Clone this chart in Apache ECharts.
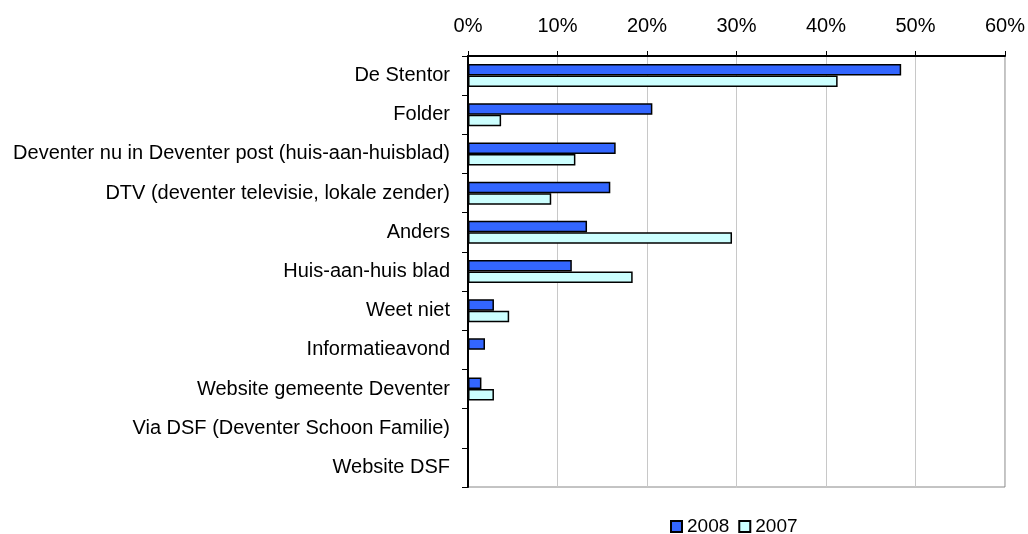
<!DOCTYPE html>
<html>
<head>
<meta charset="utf-8">
<script src="https://cdn.jsdelivr.net/npm/echarts@6/dist/echarts.min.js"></script>
<style>
  html, body { margin: 0; padding: 0; background: #fff; }
  #chart { width: 1028px; height: 534px; }
</style>
</head>
<body>
<div id="chart"></div>
<script>
const categories = [
  'De Stentor',
  'Folder',
  'Deventer nu in Deventer post (huis-aan-huisblad)',
  'DTV (deventer televisie, lokale zender)',
  'Anders',
  'Huis-aan-huis blad',
  'Weet niet',
  'Informatieavond',
  'Website gemeente Deventer',
  'Via DSF (Deventer Schoon Familie)',
  'Website DSF'
]
const values2008 = [48.4, 20.6, 16.5, 15.9, 13.3, 11.6, 2.9, 1.9, 1.5, 0, 0]
const values2007 = [41.3, 3.7, 12.0, 9.3, 29.5, 18.4, 4.6, 0, 2.9, 0, 0]
const xTicks = [0, 10, 20, 30, 40, 50, 60]

const font = 'Liberation Sans, Arial, sans-serif'
const myChart = echarts.init(document.getElementById('chart'))
const option = {
  animation: false,
  textStyle: { fontFamily: font },
  grid: {
    left: 468,
    top: 56,
    right: 20,
    bottom: 47,
    show: true,
    borderColor: '#888',
    borderWidth: 1
  },
  legend: {
    data: ['2008', '2007'],
    left: 665,
    top: 512,
    icon: 'rect',
    itemWidth: 11,
    itemHeight: 11,
    itemGap: 9,
    textStyle: { fontSize: 19, color: '#000', fontFamily: font }
  },
  xAxis: {
    type: 'value',
    position: 'top',
    min: xTicks[0],
    max: xTicks[xTicks.length - 1],
    interval: 10,
    axisLine: { show: true, lineStyle: { color: '#000', width: 2 } },
    axisTick: { show: true, inside: false, length: 5, lineStyle: { color: '#000' } },
    axisLabel: { formatter: '{value}%', fontSize: 20, color: '#000', margin: 20 },
    splitLine: { show: true, lineStyle: { color: '#c8c8c8', width: 1 } }
  },
  yAxis: {
    type: 'category',
    inverse: true,
    data: categories,
    axisLine: { show: true, lineStyle: { color: '#000', width: 2 } },
    axisTick: { show: true, inside: false, length: 6, alignWithLabel: false, lineStyle: { color: '#000' } },
    axisLabel: { fontSize: 20, color: '#000', margin: 18 },
    splitLine: { show: false }
  },
  series: [
    {
      name: '2008',
      type: 'bar',
      data: values2008,
      barWidth: 11.5,
      barGap: '0%',
      itemStyle: { color: '#3366FF', borderColor: '#000', borderWidth: 1.5 }
    },
    {
      name: '2007',
      type: 'bar',
      data: values2007,
      barWidth: 11.5,
      barGap: '0%',
      itemStyle: { color: '#CCFFFF', borderColor: '#000', borderWidth: 1.5 }
    }
  ]
}
myChart.setOption(option, true)
</script>
</body>
</html>
